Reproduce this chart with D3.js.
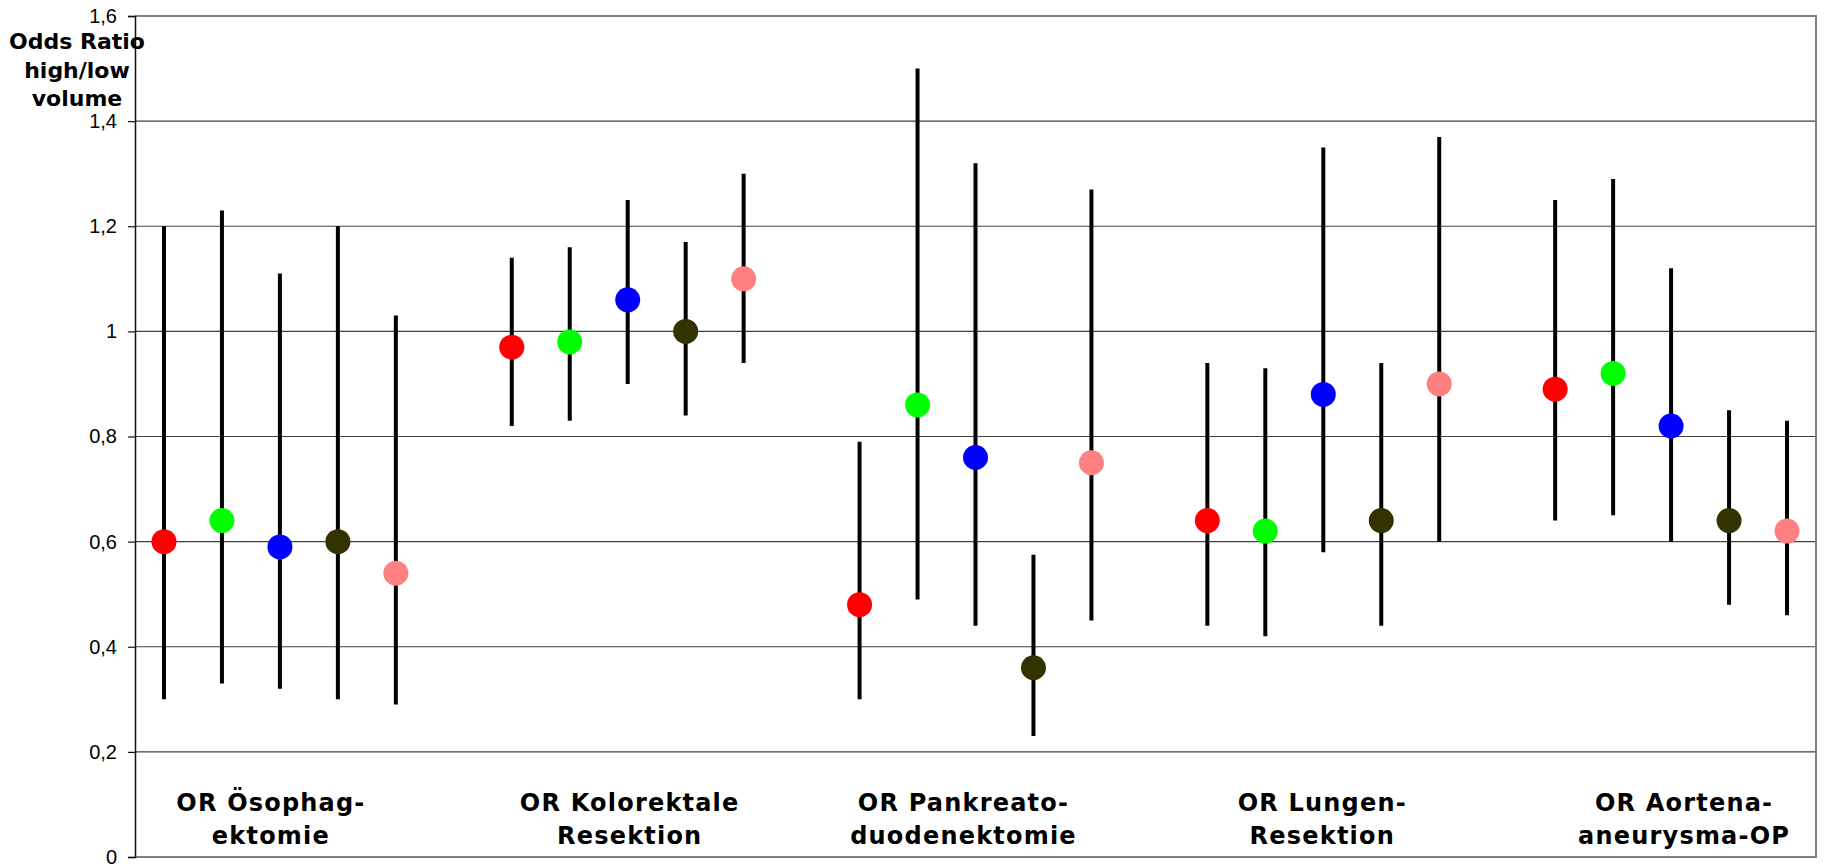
<!DOCTYPE html>
<html>
<head>
<meta charset="utf-8">
<script src="https://cdn.jsdelivr.net/npm/d3@7"></script>
<style>
  html, body { margin: 0; padding: 0; background: #fff; }
  svg { display: block; }
</style>
</head>
<body>
<div id="chart"></div>
<script>
// categories (two text lines each)
const categories = [
  ['OR Ösophag-', 'ektomie'],
  ['OR Kolorektale', 'Resektion'],
  ['OR Pankreato-', 'duodenektomie'],
  ['OR Lungen-', 'Resektion'],
  ['OR Aortena-', 'aneurysma-OP']
];

// odds ratio per category, five series each
const oddsRatio = [
  [0.60, 0.64, 0.59, 0.60, 0.54],
  [0.97, 0.98, 1.06, 1.00, 1.10],
  [0.48, 0.86, 0.76, 0.36, 0.75],
  [0.64, 0.62, 0.88, 0.64, 0.90],
  [0.89, 0.92, 0.82, 0.64, 0.62]
];
const ciLow = [
  [0.30, 0.33, 0.32, 0.30, 0.29],
  [0.82, 0.83, 0.90, 0.84, 0.94],
  [0.30, 0.49, 0.44, 0.23, 0.45],
  [0.44, 0.42, 0.58, 0.44, 0.60],
  [0.64, 0.65, 0.60, 0.48, 0.46]
];
const ciHigh = [
  [1.20, 1.23, 1.11, 1.20, 1.03],
  [1.14, 1.16, 1.25, 1.17, 1.30],
  [0.79, 1.50, 1.32, 0.575, 1.27],
  [0.94, 0.93, 1.35, 0.94, 1.37],
  [1.25, 1.29, 1.12, 0.85, 0.83]
];

const yTicks = [0, 0.2, 0.4, 0.6, 0.8, 1, 1.2, 1.4, 1.6];
const yTitle = ['Odds Ratio', 'high/low', 'volume'];

const seriesColors = ['#ff0000', '#00ff00', '#0000ff', '#333300', '#ff8080'];
// the text boxes under the groups are not exactly centred (px)
const labelNudge = [-9, 2, -12, -1, 13];

const width = 1824, height = 868;
const plot = { left: 135, right: 1816, top: 16, bottom: 857 };

const svg = d3.select('#chart').append('svg')
  .attr('width', width)
  .attr('height', height);

const nSeries = seriesColors.length;
const slotsPerGroup = nSeries + 1;

const x = d3.scaleLinear()
  .domain([0.5, categories.length * slotsPerGroup - 0.5])
  .range([plot.left, plot.right]);

const y = d3.scaleLinear()
  .domain([0, 1.6])
  .range([plot.bottom, plot.top]);

const slot = (g, s) => g * slotsPerGroup + s + 1;

// gridlines
svg.append('g')
  .selectAll('line')
  .data(yTicks.filter(d => d > 0 && d < 1.6))
  .enter().append('line')
  .attr('x1', plot.left)
  .attr('x2', plot.right)
  .attr('y1', d => y(d))
  .attr('y2', d => y(d))
  .attr('stroke', '#404040')
  .attr('stroke-width', 1.2);

// plot border (top, right, bottom)
svg.append('path')
  .attr('d', `M${plot.left},${y(1.6)}H${plot.right}V${y(0)}H${plot.left}`)
  .attr('fill', 'none')
  .attr('stroke', '#808080')
  .attr('stroke-width', 2);

// y axis
const yAxis = svg.append('g')
  .attr('transform', `translate(${plot.left},0)`)
  .call(d3.axisLeft(y)
    .tickValues(yTicks)
    .tickSize(7)
    .tickPadding(11)
    .tickFormat(d => String(+d.toFixed(1)).replace('.', ',')));

yAxis.select('.domain')
  .attr('stroke', '#111')
  .attr('stroke-width', 1.5);
yAxis.selectAll('.tick line')
  .attr('stroke', '#111')
  .attr('stroke-width', 1.2);
yAxis.selectAll('.tick text')
  .attr('fill', '#000')
  .style('font-family', '"Liberation Sans", Arial, sans-serif')
  .style('font-size', '20px');

// y title
const yTitleText = svg.append('text')
  .attr('text-anchor', 'middle')
  .style('font-family', '"DejaVu Sans", Verdana, sans-serif')
  .style('font-weight', 'bold')
  .style('font-size', '22px')
  .attr('fill', '#000');
yTitle.forEach((t, i) => {
  yTitleText.append('tspan')
    .attr('x', 77)
    .attr('y', 49 + i * 28.5)
    .text(t);
});

// error bars and points
const points = [];
oddsRatio.forEach((row, g) => {
  row.forEach((v, s) => {
    points.push({ g, s, v, lo: ciLow[g][s], hi: ciHigh[g][s] });
  });
});

svg.append('g')
  .selectAll('line')
  .data(points)
  .enter().append('line')
  .attr('x1', d => x(slot(d.g, d.s)))
  .attr('x2', d => x(slot(d.g, d.s)))
  .attr('y1', d => y(d.lo))
  .attr('y2', d => y(d.hi))
  .attr('stroke', '#000')
  .attr('stroke-width', 4);

svg.append('g')
  .selectAll('circle')
  .data(points)
  .enter().append('circle')
  .attr('cx', d => x(slot(d.g, d.s)))
  .attr('cy', d => y(d.v))
  .attr('r', 12.5)
  .attr('fill', d => seriesColors[d.s]);

// category labels
categories.forEach((lines, g) => {
  const cx = x(slot(g, (nSeries - 1) / 2)) + labelNudge[g];
  const t = svg.append('text')
    .attr('text-anchor', 'middle')
    .style('font-family', '"DejaVu Sans", Verdana, sans-serif')
    .style('font-weight', 'bold')
    .style('font-size', '24px')
    .style('letter-spacing', '1.2px')
    .attr('fill', '#000');
  lines.forEach((line, i) => {
    t.append('tspan')
      .attr('x', cx)
      .attr('y', 811 + i * 33)
      .text(line);
  });
});
</script>
</body>
</html>
